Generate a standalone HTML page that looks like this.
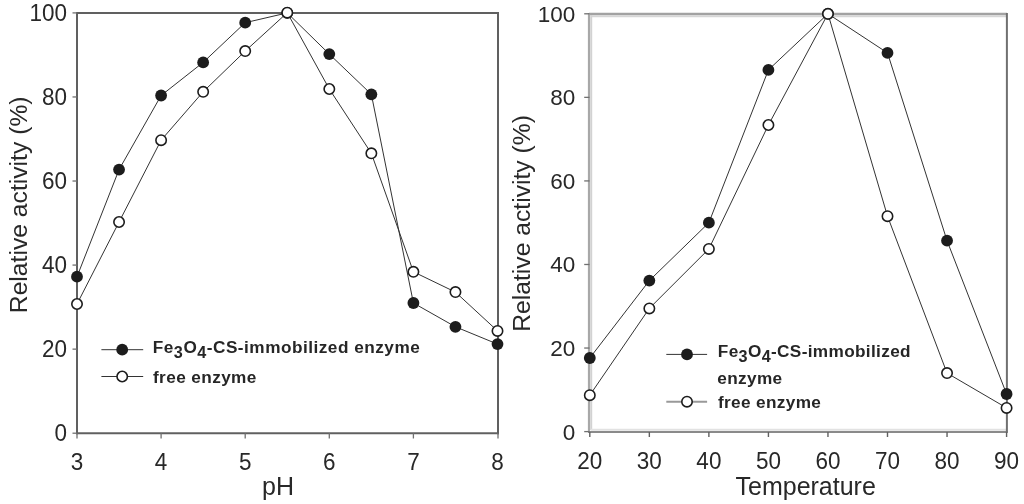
<!DOCTYPE html>
<html><head><meta charset="utf-8"><style>
html,body{margin:0;padding:0;background:#fff;}
body{width:1024px;height:504px;overflow:hidden;}
svg{display:block;will-change:transform;filter:blur(0.35px);}
text{font-family:"Liberation Sans",sans-serif;fill:#282828;}
.t{font-size:22.5px;}
.ax{font-size:25px;}
.lg{font-size:17.2px;font-weight:bold;letter-spacing:0.4px;fill:#262626;}
</style></head><body>
<svg width="1024" height="504" viewBox="0 0 1024 504">
<rect width="1024" height="504" fill="#fff"/>
<g stroke="#606060" stroke-width="2" fill="none">
<line x1="76" y1="12.9" x2="499" y2="12.9"/>
<line x1="77" y1="12" x2="77" y2="434.3"/>
<line x1="498" y1="12" x2="498" y2="434.3"/>
<line x1="76" y1="433.3" x2="499" y2="433.3"/>
</g>
<g stroke="#707070" stroke-width="1.3" fill="none">
<line x1="72.5" y1="433.20" x2="77" y2="433.20"/>
<line x1="72.5" y1="349.14" x2="77" y2="349.14"/>
<line x1="72.5" y1="265.08" x2="77" y2="265.08"/>
<line x1="72.5" y1="181.02" x2="77" y2="181.02"/>
<line x1="72.5" y1="96.96" x2="77" y2="96.96"/>
<line x1="72.5" y1="12.90" x2="77" y2="12.90"/>
<line x1="77" y1="433.2" x2="77" y2="438.5"/>
<line x1="161.1" y1="433.2" x2="161.1" y2="438.5"/>
<line x1="245.2" y1="433.2" x2="245.2" y2="438.5"/>
<line x1="329.3" y1="433.2" x2="329.3" y2="438.5"/>
<line x1="413.4" y1="433.2" x2="413.4" y2="438.5"/>
<line x1="498" y1="433.2" x2="498" y2="438.5"/>
</g>
<text class="t" transform="translate(67.1,440.80) scale(1,1.07)" text-anchor="end">0</text>
<text class="t" transform="translate(67.1,356.74) scale(1,1.07)" text-anchor="end">20</text>
<text class="t" transform="translate(67.1,272.68) scale(1,1.07)" text-anchor="end">40</text>
<text class="t" transform="translate(67.1,188.62) scale(1,1.07)" text-anchor="end">60</text>
<text class="t" transform="translate(67.1,104.56) scale(1,1.07)" text-anchor="end">80</text>
<text class="t" transform="translate(67.1,20.50) scale(1,1.07)" text-anchor="end">100</text>
<text class="t" transform="translate(77,470.3) scale(1,1.07)" text-anchor="middle">3</text>
<text class="t" transform="translate(161.1,470.3) scale(1,1.07)" text-anchor="middle">4</text>
<text class="t" transform="translate(245.2,470.3) scale(1,1.07)" text-anchor="middle">5</text>
<text class="t" transform="translate(329.3,470.3) scale(1,1.07)" text-anchor="middle">6</text>
<text class="t" transform="translate(413.4,470.3) scale(1,1.07)" text-anchor="middle">7</text>
<text class="t" transform="translate(497.5,470.3) scale(1,1.07)" text-anchor="middle">8</text>
<text class="ax" x="262" y="495">pH</text>
<text class="ax" style="font-size:24.7px" transform="translate(27.3,313.2) rotate(-90)">Relative activity (%)</text>
<polyline points="77.00,276.70 119.05,169.60 161.10,95.50 203.15,62.40 245.20,22.70 287.25,12.90 329.30,54.10 371.35,94.30 413.40,303.00 455.45,326.80 497.50,344.10" fill="none" stroke="#333" stroke-width="1.0"/>
<polyline points="77.00,304.00 119.05,222.00 161.10,140.20 203.15,91.80 245.20,51.10 287.25,12.70 329.30,89.00 371.35,153.30 413.40,271.80 455.45,292.10 497.50,330.90" fill="none" stroke="#333" stroke-width="1.0"/>
<circle cx="77.00" cy="276.70" r="5.9" fill="#1c1c1c"/>
<circle cx="119.05" cy="169.60" r="5.9" fill="#1c1c1c"/>
<circle cx="161.10" cy="95.50" r="5.9" fill="#1c1c1c"/>
<circle cx="203.15" cy="62.40" r="5.9" fill="#1c1c1c"/>
<circle cx="245.20" cy="22.70" r="5.9" fill="#1c1c1c"/>
<circle cx="287.25" cy="12.90" r="5.9" fill="#1c1c1c"/>
<circle cx="329.30" cy="54.10" r="5.9" fill="#1c1c1c"/>
<circle cx="371.35" cy="94.30" r="5.9" fill="#1c1c1c"/>
<circle cx="413.40" cy="303.00" r="5.9" fill="#1c1c1c"/>
<circle cx="455.45" cy="326.80" r="5.9" fill="#1c1c1c"/>
<circle cx="497.50" cy="344.10" r="5.9" fill="#1c1c1c"/>
<circle cx="77.00" cy="304.00" r="5.2" fill="#fff" stroke="#1c1c1c" stroke-width="1.6"/>
<circle cx="119.05" cy="222.00" r="5.2" fill="#fff" stroke="#1c1c1c" stroke-width="1.6"/>
<circle cx="161.10" cy="140.20" r="5.2" fill="#fff" stroke="#1c1c1c" stroke-width="1.6"/>
<circle cx="203.15" cy="91.80" r="5.2" fill="#fff" stroke="#1c1c1c" stroke-width="1.6"/>
<circle cx="245.20" cy="51.10" r="5.2" fill="#fff" stroke="#1c1c1c" stroke-width="1.6"/>
<circle cx="287.25" cy="12.70" r="5.2" fill="#fff" stroke="#1c1c1c" stroke-width="1.6"/>
<circle cx="329.30" cy="89.00" r="5.2" fill="#fff" stroke="#1c1c1c" stroke-width="1.6"/>
<circle cx="371.35" cy="153.30" r="5.2" fill="#fff" stroke="#1c1c1c" stroke-width="1.6"/>
<circle cx="413.40" cy="271.80" r="5.2" fill="#fff" stroke="#1c1c1c" stroke-width="1.6"/>
<circle cx="455.45" cy="292.10" r="5.2" fill="#fff" stroke="#1c1c1c" stroke-width="1.6"/>
<circle cx="497.50" cy="330.90" r="5.2" fill="#fff" stroke="#1c1c1c" stroke-width="1.6"/>
<line x1="101.4" y1="349.7" x2="143.2" y2="349.7" stroke="#333" stroke-width="1.0"/>
<circle cx="122.2" cy="349.7" r="5.9" fill="#1c1c1c"/>
<line x1="101.4" y1="376.5" x2="143.2" y2="376.5" stroke="#333" stroke-width="1.0"/>
<circle cx="122.2" cy="376.5" r="5.2" fill="#fff" stroke="#1c1c1c" stroke-width="1.6"/>
<text class="lg" x="152.8" y="352.6" style="letter-spacing:0.5px">Fe<tspan dy="5.3" font-size="16.2">3</tspan><tspan dy="-5.3">O</tspan><tspan dy="5.3" font-size="16.2">4</tspan><tspan dy="-5.3">-CS-immobilized enzyme</tspan></text>
<text class="lg" x="153" y="382.6">free enzyme</text>
<g fill="none">
<line x1="589" y1="14" x2="1007" y2="14" stroke="#a2a2a2" stroke-width="2.3"/>
<line x1="591" y1="16.2" x2="1006" y2="16.2" stroke="#d6d6d6" stroke-width="2"/>
<line x1="589" y1="13" x2="589" y2="432" stroke="#a8a8a8" stroke-width="2.2"/>
<line x1="591.2" y1="15" x2="591.2" y2="430" stroke="#d2d2d2" stroke-width="2"/>
<line x1="591" y1="429.8" x2="1006" y2="429.8" stroke="#e2e2e2" stroke-width="2"/>
<line x1="588" y1="431.9" x2="1007.5" y2="431.9" stroke="#8a8a8a" stroke-width="2"/>
<line x1="1006.9" y1="13" x2="1006.9" y2="432.8" stroke="#707070" stroke-width="2"/>
<line x1="584.2" y1="431.60" x2="589.5" y2="431.60" stroke="#707070" stroke-width="1.3"/>
<line x1="584.2" y1="348.04" x2="589.5" y2="348.04" stroke="#707070" stroke-width="1.3"/>
<line x1="584.2" y1="264.48" x2="589.5" y2="264.48" stroke="#707070" stroke-width="1.3"/>
<line x1="584.2" y1="180.92" x2="589.5" y2="180.92" stroke="#707070" stroke-width="1.3"/>
<line x1="584.2" y1="97.36" x2="589.5" y2="97.36" stroke="#707070" stroke-width="1.3"/>
<line x1="584.2" y1="13.80" x2="589.5" y2="13.80" stroke="#707070" stroke-width="1.3"/>
<line x1="589.80" y1="432" x2="589.80" y2="437" stroke="#606060" stroke-width="1.4"/>
<line x1="649.34" y1="432" x2="649.34" y2="437" stroke="#606060" stroke-width="1.4"/>
<line x1="708.88" y1="432" x2="708.88" y2="437" stroke="#606060" stroke-width="1.4"/>
<line x1="768.42" y1="432" x2="768.42" y2="437" stroke="#606060" stroke-width="1.4"/>
<line x1="827.96" y1="432" x2="827.96" y2="437" stroke="#606060" stroke-width="1.4"/>
<line x1="887.50" y1="432" x2="887.50" y2="437" stroke="#606060" stroke-width="1.4"/>
<line x1="947.04" y1="432" x2="947.04" y2="437" stroke="#606060" stroke-width="1.4"/>
<line x1="1006.58" y1="432" x2="1006.58" y2="437" stroke="#606060" stroke-width="1.4"/>
</g>
<text class="t" transform="translate(575.2,439.50) scale(1,1.02)" text-anchor="end">0</text>
<text class="t" transform="translate(575.2,355.94) scale(1,1.02)" text-anchor="end">20</text>
<text class="t" transform="translate(575.2,272.38) scale(1,1.02)" text-anchor="end">40</text>
<text class="t" transform="translate(575.2,188.82) scale(1,1.02)" text-anchor="end">60</text>
<text class="t" transform="translate(575.2,105.26) scale(1,1.02)" text-anchor="end">80</text>
<text class="t" transform="translate(575.2,21.70) scale(1,1.02)" text-anchor="end">100</text>
<text class="t" transform="translate(589.80,468.5) scale(1,1.07)" text-anchor="middle">20</text>
<text class="t" transform="translate(649.34,468.5) scale(1,1.07)" text-anchor="middle">30</text>
<text class="t" transform="translate(708.88,468.5) scale(1,1.07)" text-anchor="middle">40</text>
<text class="t" transform="translate(768.42,468.5) scale(1,1.07)" text-anchor="middle">50</text>
<text class="t" transform="translate(827.96,468.5) scale(1,1.07)" text-anchor="middle">60</text>
<text class="t" transform="translate(887.50,468.5) scale(1,1.07)" text-anchor="middle">70</text>
<text class="t" transform="translate(947.04,468.5) scale(1,1.07)" text-anchor="middle">80</text>
<text class="t" transform="translate(1006.58,468.5) scale(1,1.07)" text-anchor="middle">90</text>
<text class="ax" x="735.5" y="494.8">Temperature</text>
<text class="ax" style="font-size:24.7px" transform="translate(530,331.8) rotate(-90)">Relative activity (%)</text>
<polyline points="589.80,358.00 649.34,280.60 708.88,222.70 768.42,69.90 827.96,13.80 887.50,52.90 947.04,240.70 1006.58,394.00" fill="none" stroke="#333" stroke-width="1.0"/>
<polyline points="589.80,395.20 649.34,308.40 708.88,248.90 768.42,125.00 827.96,13.80 887.50,216.20 947.04,373.10 1006.58,407.90" fill="none" stroke="#333" stroke-width="1.0"/>
<circle cx="589.80" cy="358.00" r="5.9" fill="#1c1c1c"/>
<circle cx="649.34" cy="280.60" r="5.9" fill="#1c1c1c"/>
<circle cx="708.88" cy="222.70" r="5.9" fill="#1c1c1c"/>
<circle cx="768.42" cy="69.90" r="5.9" fill="#1c1c1c"/>
<circle cx="827.96" cy="13.80" r="5.9" fill="#1c1c1c"/>
<circle cx="887.50" cy="52.90" r="5.9" fill="#1c1c1c"/>
<circle cx="947.04" cy="240.70" r="5.9" fill="#1c1c1c"/>
<circle cx="1006.58" cy="394.00" r="5.9" fill="#1c1c1c"/>
<circle cx="589.80" cy="395.20" r="5.2" fill="#fff" stroke="#1c1c1c" stroke-width="1.6"/>
<circle cx="649.34" cy="308.40" r="5.2" fill="#fff" stroke="#1c1c1c" stroke-width="1.6"/>
<circle cx="708.88" cy="248.90" r="5.2" fill="#fff" stroke="#1c1c1c" stroke-width="1.6"/>
<circle cx="768.42" cy="125.00" r="5.2" fill="#fff" stroke="#1c1c1c" stroke-width="1.6"/>
<circle cx="827.96" cy="13.80" r="5.2" fill="#fff" stroke="#1c1c1c" stroke-width="1.6"/>
<circle cx="887.50" cy="216.20" r="5.2" fill="#fff" stroke="#1c1c1c" stroke-width="1.6"/>
<circle cx="947.04" cy="373.10" r="5.2" fill="#fff" stroke="#1c1c1c" stroke-width="1.6"/>
<circle cx="1006.58" cy="407.90" r="5.2" fill="#fff" stroke="#1c1c1c" stroke-width="1.6"/>
<line x1="666.3" y1="354.4" x2="707.1" y2="354.4" stroke="#333" stroke-width="1.0"/>
<circle cx="687" cy="354.4" r="5.9" fill="#1c1c1c"/>
<line x1="666.3" y1="401.7" x2="707.1" y2="401.7" stroke="#999" stroke-width="2"/>
<circle cx="687" cy="401.7" r="5.2" fill="#fff" stroke="#1c1c1c" stroke-width="1.6"/>
<text class="lg" x="717.8" y="357" style="letter-spacing:0.35px">Fe<tspan dy="5.3" font-size="16.2">3</tspan><tspan dy="-5.3">O</tspan><tspan dy="5.3" font-size="16.2">4</tspan><tspan dy="-5.3">-CS-immobilized</tspan></text>
<text class="lg" x="717.3" y="383.8" style="letter-spacing:0.35px">enzyme</text>
<text class="lg" x="718" y="407.8" style="letter-spacing:0.35px">free enzyme</text>
</svg></body></html>
